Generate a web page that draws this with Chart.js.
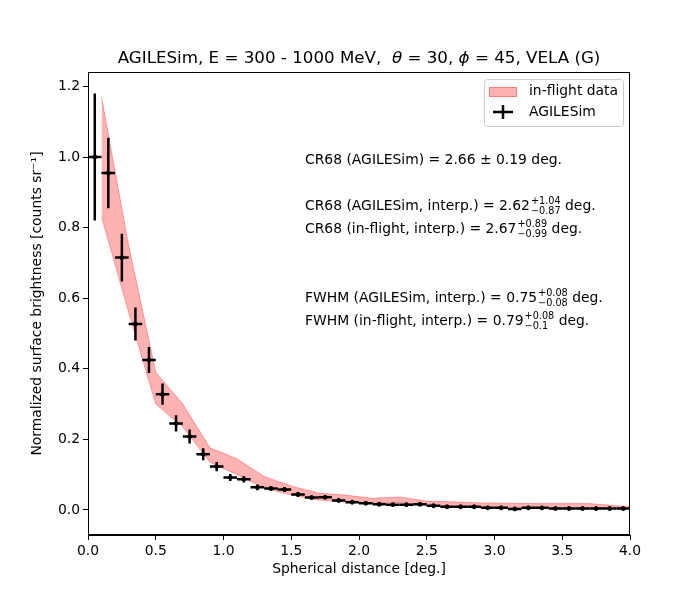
<!DOCTYPE html>
<html>
<head>
<meta charset="utf-8">
<script src="https://cdn.jsdelivr.net/npm/chart.js@4/dist/chart.umd.min.js"></script>
<style>
body { margin: 0; background: #fff; }
</style>
</head>
<body>
<canvas id="psfChart" width="700" height="600"></canvas>
<script>
// AGILESim profile (bin centres, values, 1-sigma errors)
const simX = [0.05, 0.15, 0.25, 0.35, 0.45, 0.55, 0.65, 0.75, 0.85, 0.95,
              1.05, 1.15, 1.25, 1.35, 1.45, 1.55, 1.65, 1.75, 1.85, 1.95,
              2.05, 2.15, 2.25, 2.35, 2.45, 2.55, 2.65, 2.75, 2.85, 2.95,
              3.05, 3.15, 3.25, 3.35, 3.45, 3.55, 3.65, 3.75, 3.85, 3.95];
const simY = [1.0, 0.955, 0.715, 0.527, 0.425, 0.328, 0.245, 0.208, 0.158, 0.123,
              0.092, 0.087, 0.064, 0.061, 0.058, 0.044, 0.035, 0.036, 0.027, 0.022,
              0.019, 0.016, 0.015, 0.015, 0.016, 0.012, 0.009, 0.009, 0.009, 0.006,
              0.006, 0.003, 0.006, 0.006, 0.004, 0.004, 0.004, 0.004, 0.004, 0.004];
const simErr = [0.18, 0.10, 0.068, 0.047, 0.037, 0.03, 0.023, 0.02, 0.017, 0.013,
                0.01, 0.009, 0.008, 0.007, 0.007, 0.006, 0.005, 0.005, 0.005, 0.004,
                0.004, 0.004, 0.004, 0.004, 0.004, 0.003, 0.003, 0.003, 0.003, 0.003,
                0.003, 0.003, 0.003, 0.003, 0.003, 0.003, 0.003, 0.003, 0.003, 0.003];
const binHalf = 0.05;

// in-flight band
const bandX = [0.1, 0.3, 0.5, 0.7, 0.9, 1.1, 1.3, 1.5, 1.7, 1.9, 2.1,
               2.3, 2.5, 2.7, 2.9, 3.1, 3.3, 3.5, 3.7, 3.9, 4.1];
const bandUpper = [1.17, 0.75, 0.39, 0.30, 0.176, 0.145, 0.095, 0.068, 0.048, 0.042, 0.033,
                   0.037, 0.025, 0.023, 0.02, 0.019, 0.018, 0.018, 0.018, 0.012, 0.008];
const bandLower = [0.83, 0.56, 0.30, 0.235, 0.135, 0.100, 0.062, 0.042, 0.028, 0.023, 0.02,
                   0.02, 0.012, 0.01, 0.008, 0.006, 0.006, 0.005, 0.005, 0.004, 0.004];

const xTicks = [0, 0.5, 1, 1.5, 2, 2.5, 3, 3.5, 4];
const yTicks = [0, 0.2, 0.4, 0.6, 0.8, 1.0, 1.2];

const noteMain = ['CR68 (AGILESim) = 2.66 \u00b1 0.19 deg.',
                  'CR68 (AGILESim, interp.) = 2.62',
                  'CR68 (in-flight, interp.) = 2.67',
                  'FWHM (AGILESim, interp.) = 0.75',
                  'FWHM (in-flight, interp.) = 0.79'];
const noteSup = ['', '+1.04', '+0.89', '+0.08', '+0.08'];
const noteSub = ['', '\u22120.87', '\u22120.99', '\u22120.08', '\u22120.1'];

const FONT = "'DejaVu Sans', sans-serif";

function drawTitle(ctx, a) {
    const parts = [['AGILESim, E = 300 - 1000 MeV,  ', ''], ['\u03b8', 'italic '],
                   [' = 30, ', ''], ['\u03d5', 'italic '], [' = 45, VELA (G)', '']];
    let total = 0;
    parts.forEach(p => { ctx.font = p[1] + '16.7px ' + FONT; total += ctx.measureText(p[0]).width; });
    let px = (a.left + a.right) / 2 - total / 2;
    ctx.textAlign = 'left';
    ctx.textBaseline = 'middle';
    parts.forEach(p => {
        ctx.font = p[1] + '16.7px ' + FONT;
        ctx.fillText(p[0], px, 59);
        px += ctx.measureText(p[0]).width;
    });
}

function drawNotes(ctx, a) {
    const rows = [88, 134, 157, 226, 249];
    const px = a.left + 217;
    ctx.textAlign = 'left';
    ctx.textBaseline = 'middle';
    noteMain.forEach((txt, i) => {
        const py = a.top + rows[i];
        ctx.font = '13.9px ' + FONT;
        ctx.fillText(txt, px, py);
        if (!noteSup[i]) return;
        const w = ctx.measureText(txt).width;
        ctx.font = '9.7px ' + FONT;
        ctx.fillText(noteSup[i], px + w + 1, py - 5);
        ctx.fillText(noteSub[i], px + w + 1, py + 5);
        const sw = Math.max(ctx.measureText(noteSup[i]).width, ctx.measureText(noteSub[i]).width);
        ctx.font = '13.9px ' + FONT;
        ctx.fillText(' deg.', px + w + 1 + sw, py);
    });
}

function drawLegend(ctx, a) {
    const bx = a.right - 146, by = a.top + 7, bw = 139, bh = 47;
    ctx.fillStyle = 'rgba(255,255,255,0.8)';
    ctx.strokeStyle = '#cccccc';
    ctx.lineWidth = 1;
    ctx.beginPath();
    ctx.roundRect(bx + 0.5, by + 0.5, bw, bh, 3);
    ctx.fill();
    ctx.stroke();

    ctx.fillStyle = 'rgba(255,0,0,0.3)';
    ctx.strokeStyle = 'rgba(255,0,0,0.3)';
    ctx.fillRect(bx + 5, by + 8, 28, 10);
    ctx.strokeRect(bx + 5.5, by + 8.5, 27, 9);

    ctx.strokeStyle = '#000';
    ctx.lineWidth = 2.5;
    ctx.beginPath();
    ctx.moveTo(bx + 9, by + 33); ctx.lineTo(bx + 29, by + 33);
    ctx.moveTo(bx + 19, by + 26); ctx.lineTo(bx + 19, by + 40);
    ctx.stroke();

    ctx.fillStyle = '#000';
    ctx.font = '13.9px ' + FONT;
    ctx.textAlign = 'left';
    ctx.textBaseline = 'middle';
    ctx.fillText('in-flight data', bx + 45, by + 12);
    ctx.fillText('AGILESim', bx + 45, by + 33);
}

const extras = {
    id: 'extras',
    afterDatasetsDraw(chart) {
        const {ctx, scales: {x, y}} = chart;
        ctx.save();
        ctx.strokeStyle = '#000';
        ctx.lineWidth = 2.5;
        simX.forEach((v, i) => {
            const px = x.getPixelForValue(v), py = y.getPixelForValue(simY[i]);
            ctx.beginPath();
            ctx.moveTo(x.getPixelForValue(v - binHalf), py);
            ctx.lineTo(x.getPixelForValue(v + binHalf), py);
            ctx.moveTo(px, y.getPixelForValue(simY[i] - simErr[i]));
            ctx.lineTo(px, y.getPixelForValue(simY[i] + simErr[i]));
            ctx.stroke();
        });
        ctx.restore();
    },
    afterDraw(chart) {
        const {ctx, chartArea: a} = chart;
        ctx.save();
        ctx.strokeStyle = '#000';
        ctx.lineWidth = 1;
        ctx.strokeRect(a.left + 0.5, a.top + 0.5, a.width - 1, a.height - 1);
        ctx.fillStyle = '#000';
        drawTitle(ctx, a);
        drawNotes(ctx, a);
        drawLegend(ctx, a);
        ctx.restore();
    }
};

const axisStyle = {
    grid: { drawOnChartArea: false, drawTicks: true, tickLength: 5, color: '#000' },
    border: { display: true, color: '#000', width: 1 },
    ticks: { color: '#000', font: { family: FONT, size: 13.9 }, padding: 3,
             callback: v => v.toFixed(1) }
};

new Chart(document.getElementById('psfChart').getContext('2d'), {
    data: {
        datasets: [{
            type: 'line',
            label: 'in-flight upper',
            data: bandX.map((v, i) => ({ x: v, y: bandUpper[i] })),
            borderColor: 'rgba(255,0,0,0.3)',
            borderWidth: 1,
            pointRadius: 0,
            fill: false,
            order: 2
        }, {
            type: 'line',
            label: 'in-flight data',
            data: bandX.map((v, i) => ({ x: v, y: bandLower[i] })),
            borderColor: 'rgba(255,0,0,0.3)',
            backgroundColor: 'rgba(255,0,0,0.3)',
            borderWidth: 1,
            pointRadius: 0,
            fill: '-1',
            order: 2
        }, {
            type: 'scatter',
            label: 'AGILESim',
            data: simX.map((v, i) => ({ x: v, y: simY[i] })),
            pointRadius: 2,
            pointBackgroundColor: '#000',
            pointBorderColor: '#000',
            order: 1
        }]
    },
    options: {
        responsive: false,
        animation: false,
        devicePixelRatio: 1,
        layout: { padding: { left: 0, right: 70, top: 72, bottom: 0 } },
        scales: {
            x: {
                type: 'linear',
                min: 0,
                max: 4,
                ...axisStyle,
                afterBuildTicks: s => { s.ticks = xTicks.map(v => ({ value: v })); },
                afterFit: s => { s.height = 65; },
                title: { display: true, text: 'Spherical distance [deg.]', color: '#000',
                         font: { family: FONT, size: 13.9 }, padding: { top: 0, bottom: 22 } }
            },
            y: {
                type: 'linear',
                min: -0.071,
                max: 1.241,
                ...axisStyle,
                afterBuildTicks: s => { s.ticks = yTicks.map(v => ({ value: v })); },
                afterFit: s => { s.width = 88; },
                title: { display: true, text: 'Normalized surface brightness [counts sr\u207b\u00b9]',
                         color: '#000', font: { family: FONT, size: 13.9 }, padding: { top: 29, bottom: 0 } }
            }
        },
        plugins: {
            legend: { display: false },
            title: { display: false },
            tooltip: { enabled: false }
        }
    },
    plugins: [extras]
});
</script>
</body>
</html>
